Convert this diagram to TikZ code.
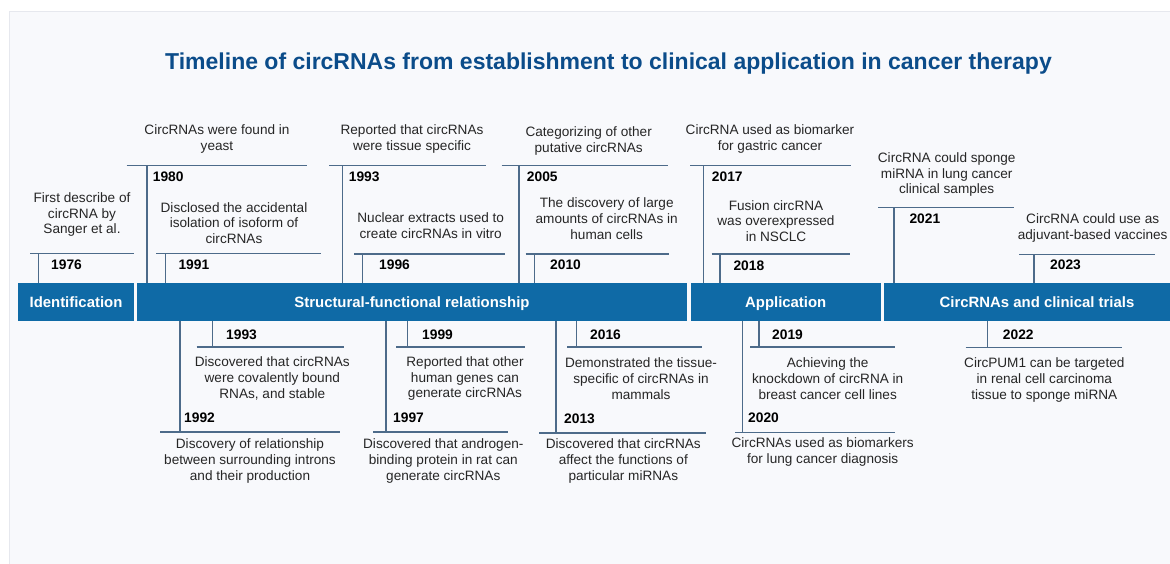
\documentclass[tikz,border=0pt]{standalone}
\usepackage{fontspec}
\setmainfont{Liberation Sans}
\definecolor{barblue}{HTML}{0F6AA6}
\definecolor{titleblue}{HTML}{0B4C8A}
\definecolor{linecol}{HTML}{4D6B8A}
\definecolor{panel}{HTML}{F8F9FC}
\definecolor{panelborder}{HTML}{E6E8EE}
\definecolor{textcol}{HTML}{262626}
\begin{document}
\begin{tikzpicture}[x=1pt,y=-1pt,
  bar/.style={fill=barblue, text=white, font=\bfseries\fontsize{14.9}{17}\selectfont, inner sep=0, minimum height=37.5, text height=14.6pt, text depth=3.2pt},
  tick/.style={draw=linecol, line width=1.4pt},
  yr/.style={font=\bfseries\fontsize{13.8}{15}\selectfont, anchor=west, inner sep=0, text=black},
  desc/.style={font=\fontsize{13.6}{15.7}\selectfont, align=center, inner sep=0, text=textcol}]
\useasboundingbox (0,0) rectangle (1170,564);
\fill[white] (0,0) rectangle (1170,564);
\fill[panel] (9.5,11) rectangle (1170,564);
\draw[panelborder] (9.5,564) -- (9.5,11) -- (1170,11);

\node[font=\bfseries\fontsize{23}{27}\selectfont, text=titleblue] (title) at (608.5,64) {Timeline of circRNAs from establishment to clinical application in cancer therapy};

% bars
\node[bar, minimum width=116] (id) at (76,301.75) {Identification};
\node[bar, minimum width=550] (sf) at (412,301.75) {Structural-functional relationship};
\node[bar, minimum width=190] (app) at (785.7,301.75) {Application};
\node[bar, minimum width=306] (ct) at (1037,301.75) {CircRNAs and clinical trials};

% ---------- events above ----------
% 1976
\coordinate (v1976) at (38.3,253.3);
\draw[tick] (30,253.3) -- (134,253.3);
\draw[tick] (v1976) -- (v1976 |- id.north);
\node[yr] (y1976) at (51,264.5) {1976};
\node[desc] (t1976) at (82,214.5) {First describe of\\circRNA by\\Sanger et al.};
% 1980
\coordinate (v1980) at (147,165.3);
\draw[tick] (126.7,165.3) -- (307,165.3);
\draw[tick] (v1980) -- (v1980 |- sf.north);
\node[yr] (y1980) at (152.7,176.7) {1980};
\node[desc] (t1980) at (217,139) {CircRNAs were found in\\yeast};
% 1991
\coordinate (v1991) at (165.7,253.3);
\draw[tick] (156,253.3) -- (320.7,253.3);
\draw[tick] (v1991) -- (v1991 |- sf.north);
\node[yr] (y1991) at (178.3,265) {1991};
\node[desc] (t1991) at (234,223) {Disclosed the accidental\\isolation of isoform of\\circRNAs};
% 1993 above
\coordinate (v1993a) at (342.5,165.3);
\draw[tick] (329,165.3) -- (485.7,165.3);
\draw[tick] (v1993a) -- (v1993a |- sf.north);
\node[yr] (y1993a) at (348.7,176.7) {1993};
\node[desc] (t1993a) at (412,139) {Reported that circRNAs\\were tissue specific};
% 1996
\coordinate (v1996) at (362.7,254);
\draw[tick] (354,254) -- (505.3,254);
\draw[tick] (v1996) -- (v1996 |- sf.north);
\node[yr] (y1996) at (379,264.5) {1996};
\node[desc] (t1996) at (430.7,225.5) {Nuclear extracts used to\\create circRNAs in vitro};
% 2005
\coordinate (v2005) at (519,165.7);
\draw[tick] (501.7,165.7) -- (668.3,165.7);
\draw[tick] (v2005) -- (v2005 |- sf.north);
\node[yr] (y2005) at (526.7,177) {2005};
\node[desc] (t2005) at (588.7,141) {Categorizing of other\\putative circRNAs};
% 2010
\coordinate (v2010) at (534.3,254);
\draw[tick] (525.7,254) -- (669.3,254);
\draw[tick] (v2010) -- (v2010 |- sf.north);
\node[yr] (y2010) at (550,265) {2010};
\node[desc] (t2010) at (606.7,218.7) {The discovery of large\\amounts of circRNAs in\\human cells};
% 2017
\coordinate (v2017) at (703.3,165.3);
\draw[tick] (690,165.3) -- (850.7,165.3);
\draw[tick] (v2017) -- (v2017 |- app.north);
\node[yr] (y2017) at (711.7,176.5) {2017};
\node[desc] (t2017) at (770,139) {CircRNA used as biomarker\\for gastric cancer};
% 2018
\coordinate (v2018) at (720,254);
\draw[tick] (711.7,254) -- (850,254);
\draw[tick] (v2018) -- (v2018 |- app.north);
\node[yr] (y2018) at (733.3,266) {2018};
\node[desc] (t2018) at (776,221) {Fusion circRNA\\was overexpressed\\in NSCLC};
% 2021
\coordinate (v2021) at (894,207.7);
\draw[tick] (878.3,207.7) -- (1014.3,207.7);
\draw[tick] (v2021) -- (v2021 |- ct.north);
\node[yr] (y2021) at (909.3,218.7) {2021};
\node[desc] (t2021) at (946.7,174.7) {CircRNA could sponge\\miRNA in lung cancer\\clinical samples};
% 2023
\coordinate (v2023) at (1034,254.7);
\draw[tick] (1019,254.7) -- (1155,254.7);
\draw[tick] (v2023) -- (v2023 |- ct.north);
\node[yr] (y2023) at (1050,265) {2023};
\node[desc] (t2023) at (1092.7,228) {CircRNA could use as\\adjuvant-based vaccines};

% ---------- events below ----------
% 1992
\coordinate (v1992) at (180,432);
\draw[tick] (160,432) -- (340,432);
\draw[tick] (v1992 |- sf.south) -- (v1992);
\node[yr] (y1992) at (184,418) {1992};
\node[desc] (t1992) at (250,461) {Discovery of relationship\\between surrounding introns\\and their production};
% 1993 below
\coordinate (v1993b) at (212.3,347);
\draw[tick] (196.7,347) -- (344.3,347);
\draw[tick] (v1993b |- sf.south) -- (v1993b);
\node[yr] (y1993b) at (226,334.3) {1993};
\node[desc] (t1993b) at (272.3,378.5) {Discovered that circRNAs\\were covalently bound\\RNAs, and stable};
% 1997
\coordinate (v1997) at (386,432);
\draw[tick] (373.3,432) -- (508.3,432);
\draw[tick] (v1997 |- sf.south) -- (v1997);
\node[yr] (y1997) at (393,418) {1997};
\node[desc] (t1997) at (443.3,461) {Discovered that androgen-\\binding protein in rat can\\generate circRNAs};
% 1999
\coordinate (v1999) at (407.7,347);
\draw[tick] (396,347) -- (525,347);
\draw[tick] (v1999 |- sf.south) -- (v1999);
\node[yr] (y1999) at (422,334.3) {1999};
\node[desc] (t1999) at (465,378.5) {Reported that other\\human genes can\\generate circRNAs};
% 2013
\coordinate (v2013) at (556,433);
\draw[tick] (539.3,433) -- (706,433);
\draw[tick] (v2013 |- sf.south) -- (v2013);
\node[yr] (y2013) at (564,418.5) {2013};
\node[desc] (t2013) at (623.3,461) {Discovered that circRNAs\\affect the functions of\\particular miRNAs};
% 2016
\coordinate (v2016) at (576.7,347);
\draw[tick] (567.3,347) -- (702.3,347);
\draw[tick] (v2016 |- sf.south) -- (v2016);
\node[yr] (y2016) at (590,335) {2016};
\node[desc] (t2016) at (641,378.5) {Demonstrated the tissue-\\specific of circRNAs in\\mammals};
% 2020
\coordinate (v2020) at (742.7,432.7);
\draw[tick] (735,432.7) -- (895,432.7);
\draw[tick] (v2020 |- app.south) -- (v2020);
\node[yr] (y2020) at (748,418) {2020};
\node[desc] (t2020) at (822.7,452) {CircRNAs used as biomarkers\\for lung cancer diagnosis};
% 2019
\coordinate (v2019) at (759,347);
\draw[tick] (750,347) -- (895,347);
\draw[tick] (v2019 |- app.south) -- (v2019);
\node[yr] (y2019) at (772,334.3) {2019};
\node[desc] (t2019) at (827.7,378.5) {Achieving the\\knockdown of circRNA in\\breast cancer cell lines};
% 2022
\coordinate (v2022) at (987.3,347.7);
\draw[tick] (965.7,347.7) -- (1122.3,347.7);
\draw[tick] (v2022 |- ct.south) -- (v2022);
\node[yr] (y2022) at (1002.7,334.7) {2022};
\node[desc] (t2022) at (1044.3,380) {CircPUM1 can be targeted\\in renal cell carcinoma\\tissue to sponge miRNA};
\end{tikzpicture}
\end{document}
